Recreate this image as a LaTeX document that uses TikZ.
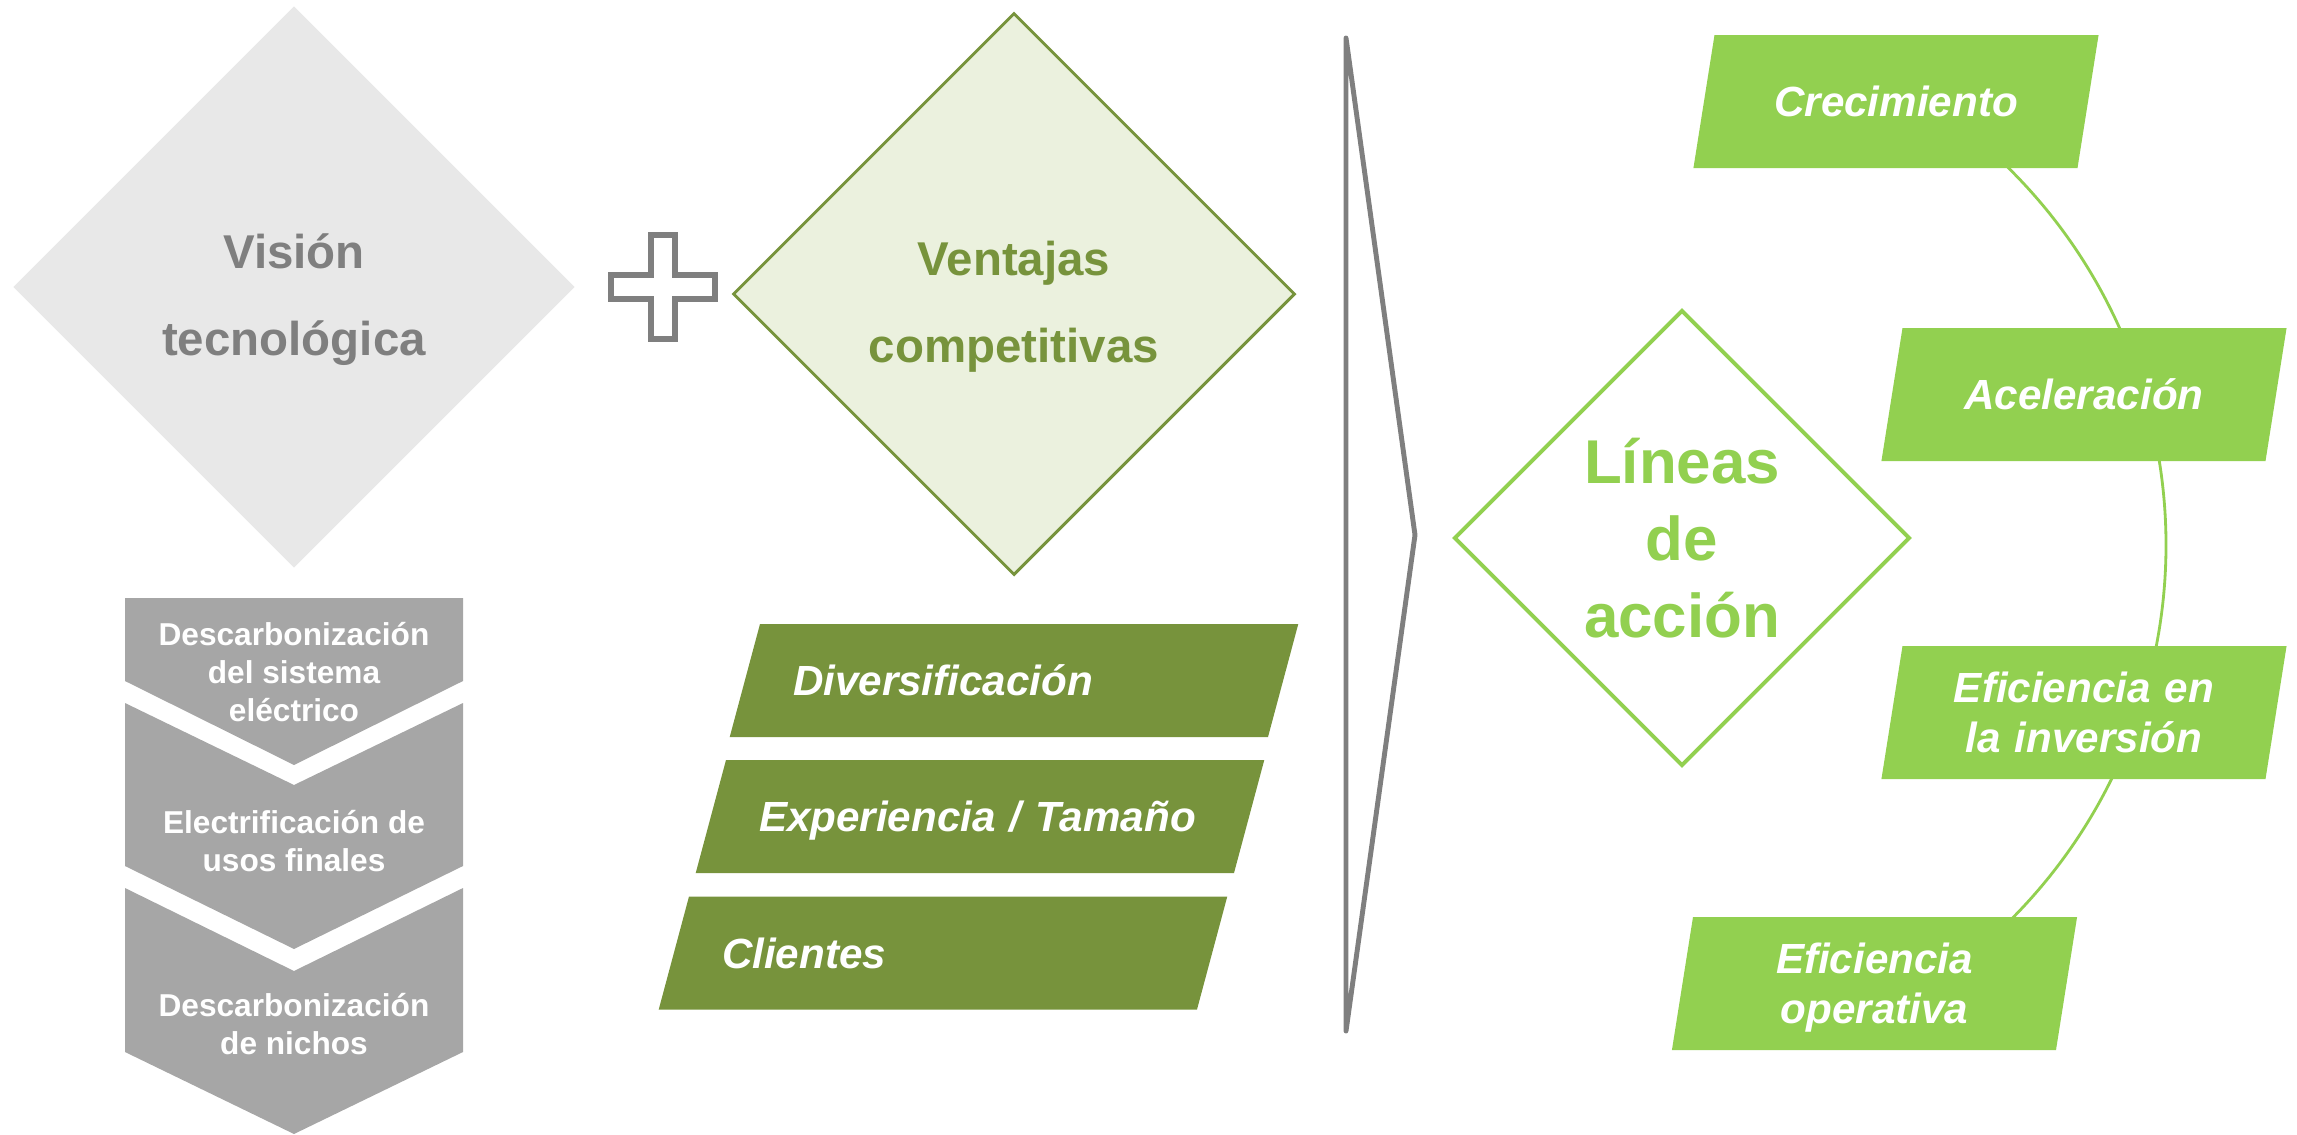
\documentclass[tikz,border=0pt]{standalone}
\usepackage{fontspec}
\setmainfont{Liberation Sans}
\definecolor{textgray}{RGB}{127, 127, 127}
\definecolor{lightgray1}{RGB}{232, 232, 232}
\definecolor{chevgray}{RGB}{166, 166, 166}
\definecolor{olive1}{RGB}{119, 147, 60}
\definecolor{olivelight}{RGB}{235, 241, 222}
\definecolor{green1}{RGB}{146, 208, 80}
\usetikzlibrary{shapes.geometric, positioning}

\tikzset{
  bigdiamond/.style={diamond, aspect=1, minimum width=5.62cm, minimum height=5.62cm, inner sep=0pt, align=center,
    text height=1.43cm, text depth=0.07cm, font=\fontsize{13.5}{24.5}\selectfont\bfseries},
  chevtext/.style={align=center, text=white, font=\fontsize{9}{10.8}\selectfont\bfseries},
  olivebox/.style={trapezium, trapezium left angle=75, trapezium right angle=105, fill=olive1,
    inner xsep=0.33cm, inner ysep=0pt, text width=4.42cm, text height=0.715cm, text depth=0.415cm, align=left,
    text=white, font=\fontsize{12}{14}\selectfont\bfseries\itshape},
  greenbox/.style={trapezium, trapezium left angle=81, trapezium right angle=99, fill=green1,
    inner sep=0pt, text width=3.63cm, text height=0.815cm, text depth=0.515cm, align=center,
    text=white, font=\fontsize{12}{14.2}\selectfont\bfseries\itshape},
  greenbox2/.style={greenbox, text height=0.565cm, text depth=0.765cm},
}

\begin{document}
\begin{tikzpicture}
  \useasboundingbox (0,0) rectangle (22.97,-11.34);

  % Vision tecnologica
  \node[bigdiamond, fill=lightgray1, text=textgray] (vision) at (2.94,-2.87) {Visión\\tecnológica};

  % Chevrons
  \fill[chevgray] (1.25,-5.98) -- (4.63,-5.98) -- (4.63,-6.81) -- (2.94,-7.65) -- (1.25,-6.81) -- cycle;
  \fill[chevgray] (1.25,-7.03) -- (2.94,-7.85) -- (4.63,-7.03) -- (4.63,-8.66) -- (2.94,-9.49) -- (1.25,-8.66) -- cycle;
  \fill[chevgray] (1.25,-8.88) -- (2.94,-9.71) -- (4.63,-8.88) -- (4.63,-10.52) -- (2.94,-11.34) -- (1.25,-10.52) -- cycle;
  \node[chevtext] (descsist) at (2.94,-6.72) {Descarbonización\\del sistema\\eléctrico};
  \node[chevtext] (electrif) at (2.94,-8.41) {Electrificación de\\usos finales};
  \node[chevtext] (descnich) at (2.94,-10.24) {Descarbonización\\de nichos};

  % Plus
  \coordinate (plus) at (6.63,-2.87);
  \draw[textgray, line width=1.6pt, fill=white] (plus) ++(-0.12,0.52) -- ++(0.24,0) -- ++(0,-0.4) -- ++(0.4,0)
    -- ++(0,-0.24) -- ++(-0.4,0) -- ++(0,-0.4) -- ++(-0.24,0) -- ++(0,0.4) -- ++(-0.4,0) -- ++(0,0.24) -- ++(0.4,0) -- cycle;

  % Ventajas competitivas
  \node[bigdiamond, draw=olive1, line width=0.85pt, fill=olivelight, text=olive1] (ventajas) at (10.14,-2.94) {Ventajas\\competitivas};

  \node[olivebox] (diversif) at (10.14,-6.805) {Diversificación};
  \node[olivebox] (experiencia) at (9.80,-8.165) {Experiencia / Tamaño};
  \node[olivebox] (clientes) at (9.43,-9.53) {Clientes};

  % Bracket
  \coordinate (brtop) at (13.46,-0.38);
  \coordinate (brtip) at (14.15,-5.35);
  \coordinate (brbot) at (13.46,-10.31);
  \draw[textgray, line width=1.4pt, line cap=round, line join=round] (brtop) -- (brtip) -- (brbot) -- cycle;

  % Lineas de accion
  \node[diamond, aspect=1, minimum width=4.56cm, minimum height=4.56cm, inner sep=0pt, draw=green1, line width=1.1pt,
    fill=white, text=green1, align=center, font=\fontsize{17.6}{21.9}\selectfont\bfseries] (lineas) at (16.82,-5.38) {Líneas\\de\\acción};

  % Arc behind the boxes
  \coordinate (arccenter) at (16.36,-5.45);
  \draw[green1, line width=0.8pt] ([shift={(47:5.3)}]arccenter) arc[start angle=47, end angle=-47, radius=5.3];

  \node[greenbox] (crecim) at (18.96,-1.015) {Crecimiento};
  \node[greenbox] (aceler) at (20.84,-3.945) {Aceleración};
  \node[greenbox2] (efinv) at (20.84,-7.125) {Eficiencia en\\la inversión};
  \node[greenbox2] (efop) at (18.745,-9.835) {Eficiencia\\operativa};
\end{tikzpicture}
\end{document}
